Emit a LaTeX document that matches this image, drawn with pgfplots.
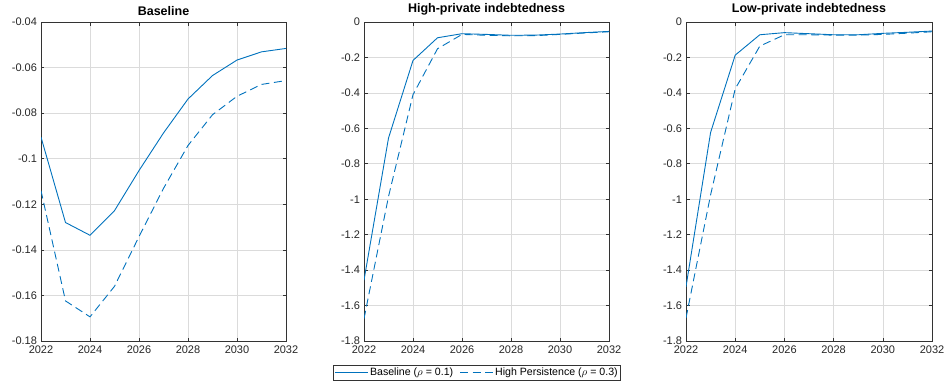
\documentclass[border=0pt]{standalone}
\usepackage{fontspec}
\setmainfont{Liberation Sans}
\usepackage{pgfplots}
\pgfplotsset{compat=1.18}
\definecolor{mblue}{rgb}{0,0.447,0.741}
\pgfplotsset{mystyle/.style={
  scale only axis, width=245pt, height=319pt, anchor=south west,
  xmin=2022, xmax=2032, xtick={2022,2024,...,2032},
  grid=major, grid style={color=black!14, line width=0.6pt},
  axis line style={black!80, line width=0.6pt},
  tick style={black!80, line width=0.6pt},
  tick align=inside, major tick length=3.5pt,
  ticklabel style={font=\fontsize{11}{13}\selectfont, text=black!85},
  xticklabel style={yshift=-1.5pt},
  yticklabel style={xshift=-0.5pt},
  /pgf/number format/assume math mode=true,
  /pgf/number format/1000 sep={},
  scaled x ticks=false, scaled y ticks=false,
  title style={font=\bfseries\fontsize{12.5}{14}\selectfont, yshift=-3pt},
  cycle list={{mblue, solid, line width=0.9pt, mark=none},{mblue, dash pattern=on 8pt off 4.5pt, line width=0.9pt, mark=none}},
}}
\begin{document}
\begin{tikzpicture}
\useasboundingbox (0pt,0pt) rectangle (945pt,-389pt);
\begin{axis}[mystyle, at={(41pt,-341pt)}, title={Baseline},
  ymin=-0.18, ymax=-0.04, ytick={-0.18,-0.16,...,-0.04},
  yticklabel style={/pgf/number format/fixed, /pgf/number format/precision=2}]
\addplot coordinates {(2022,-0.0905) (2023,-0.128) (2024,-0.1336) (2025,-0.1228) (2026,-0.1052) (2027,-0.0887) (2028,-0.0738) (2029,-0.0635) (2030,-0.0567) (2031,-0.0531) (2032,-0.0516)};
\addplot coordinates {(2022,-0.114) (2023,-0.1624) (2024,-0.1694) (2025,-0.156) (2026,-0.1342) (2027,-0.113) (2028,-0.0942) (2029,-0.0807) (2030,-0.0726) (2031,-0.0674) (2032,-0.0657)};
\end{axis}
\begin{axis}[mystyle, at={(364pt,-341pt)}, title={High-private indebtedness},
  ymin=-1.8, ymax=0, ytick={-1.8,-1.6,...,0},
  yticklabel style={/pgf/number format/fixed, /pgf/number format/precision=1},
  legend style={at={(0.461,-0.100)}, anchor=center, legend columns=2,
    draw=black!80, line width=0.6pt, font=\fontsize{10.6}{12.5}\selectfont, inner sep=1.5pt,
    nodes={inner sep=1.5pt},
    /tikz/every even column/.append style={column sep=5pt}},
  legend image code/.code={\draw[#1] (0pt,0pt) -- (33pt,0pt);}]
\addplot coordinates {(2022,-1.457) (2023,-0.655) (2024,-0.217) (2025,-0.089) (2026,-0.066) (2027,-0.070) (2028,-0.075) (2029,-0.074) (2030,-0.068) (2031,-0.060) (2032,-0.053)};
\addlegendentry{Baseline ($\rho$ = 0.1)}
\addplot coordinates {(2022,-1.674) (2023,-0.985) (2024,-0.41) (2025,-0.151) (2026,-0.070) (2027,-0.075) (2028,-0.078) (2029,-0.077) (2030,-0.070) (2031,-0.062) (2032,-0.055)};
\addlegendentry{High Persistence ($\rho$ = 0.3)}
\end{axis}
\begin{axis}[mystyle, at={(686pt,-341pt)}, width=246pt, title={Low-private indebtedness},
  ymin=-1.8, ymax=0, ytick={-1.8,-1.6,...,0},
  yticklabel style={/pgf/number format/fixed, /pgf/number format/precision=1}]
\addplot coordinates {(2022,-1.494) (2023,-0.623) (2024,-0.187) (2025,-0.072) (2026,-0.060) (2027,-0.066) (2028,-0.072) (2029,-0.072) (2030,-0.064) (2031,-0.058) (2032,-0.051)};
\addplot coordinates {(2022,-1.67) (2023,-0.975) (2024,-0.377) (2025,-0.136) (2026,-0.072) (2027,-0.072) (2028,-0.074) (2029,-0.074) (2030,-0.070) (2031,-0.063) (2032,-0.055)};
\end{axis}
\end{tikzpicture}
\end{document}
